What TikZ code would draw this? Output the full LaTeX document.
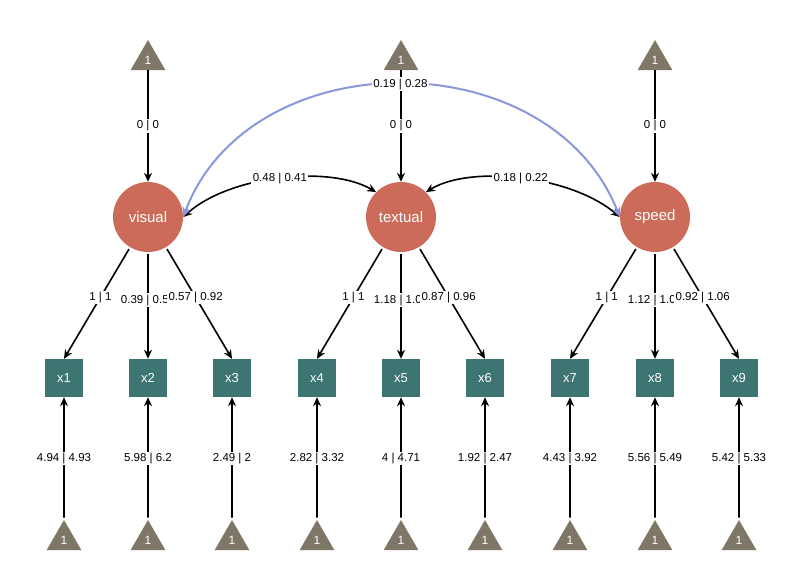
\documentclass[tikz,border=0pt]{standalone}
\usepackage{fontspec}
\setmainfont{Liberation Sans}
\usetikzlibrary{shapes.geometric,arrows.meta}
\definecolor{lat}{HTML}{CD6B5A}
\definecolor{man}{HTML}{3C7571}
\definecolor{tri}{HTML}{7E7666}
\definecolor{cov}{HTML}{8A97DB}
\begin{document}
\begin{tikzpicture}[x=1pt,y=-1pt,
  latent/.style={circle,fill=lat,minimum size=70pt,inner sep=0pt,text=white,font=\fontsize{15}{15}\selectfont},
  manifest/.style={rectangle,fill=man,minimum size=38pt,inner sep=0pt,text=white,font=\fontsize{13}{13}\selectfont},
  one/.style={regular polygon,regular polygon sides=3,fill=tri,minimum size=40pt,inner sep=0pt,text=white,font=\fontsize{12}{12}\selectfont},
  arr/.style={line width=1.6pt,-{Stealth[length=9pt,width=8pt]}},
  lab/.style={fill=white,inner sep=1.5pt,font=\fontsize{11.5}{12}\selectfont}]
\useasboundingbox (0,0) rectangle (799,584);
\foreach \n/\x in {visual/148,textual/401,speed/655}{
  \node[latent] (\n) at (\x,217) {\n};
  \node[one] (t\n) at (\x,60) {\raisebox{-3pt}{1}};
}
\foreach \i/\x in {1/64,2/148,3/232,4/317,5/401,6/485,7/570,8/655,9/739}{
  \node[manifest] (x\i) at (\x,378) {x\i};
  \node[one] (b\i) at (\x,540) {\raisebox{-3pt}{1}};
}
% means of latents
\foreach \n in {visual,textual,speed}{
  \draw[arr] (t\n.south) -- node[lab]{0 | 0} (\n.north);
}
% loadings
\foreach \n/\a/\b/\c/\la/\lb/\lc in {visual/1/2/3/{1 | 1}/{0.39 | 0.55}/{0.57 | 0.92},
  textual/4/5/6/{1 | 1}/{1.18 | 1.05}/{0.87 | 0.96},
  speed/7/8/9/{1 | 1}/{1.12 | 1.08}/{0.92 | 1.06}}{
  \draw[arr,shorten <=2pt] (\n) -- node[lab,pos=0.45]{\la} (x\a.north);
  \draw[arr,shorten <=2pt] (\n) -- node[lab,pos=0.45]{\lb} (x\b.north);
  \draw[arr,shorten <=2pt] (\n) -- node[lab,pos=0.45]{\lc} (x\c.north);
}
% intercepts
\foreach \i/\l in {1/{4.94 | 4.93},2/{5.98 | 6.2},3/{2.49 | 2},4/{2.82 | 3.32},5/{4 | 4.71},6/{1.92 | 2.47},7/{4.43 | 3.92},8/{5.56 | 5.49},9/{5.42 | 5.33}}{
  \draw[arr,shorten <=2pt] (b\i.north) -- node[lab]{\l} (x\i.south);
}
% covariances
\draw[line width=1.6pt,{Stealth[length=9pt,width=8pt]}-{Stealth[length=9pt,width=8pt]}]
  (visual.east) .. controls (230,175) and (330,165) .. node[lab]{0.48 | 0.41} (textual.north west);
\draw[line width=1.6pt,{Stealth[length=9pt,width=8pt]}-{Stealth[length=9pt,width=8pt]}]
  (textual.north east) .. controls (470,165) and (570,175) .. node[lab]{0.18 | 0.22} (speed.west);
\draw[line width=2pt,cov,{Stealth[length=10pt,width=9pt]}-{Stealth[length=10pt,width=9pt]}]
  (visual.east) .. controls (250,40) and (550,40) .. node[lab,text=black]{0.19 | 0.28} (speed.west);
\end{tikzpicture}
\end{document}
